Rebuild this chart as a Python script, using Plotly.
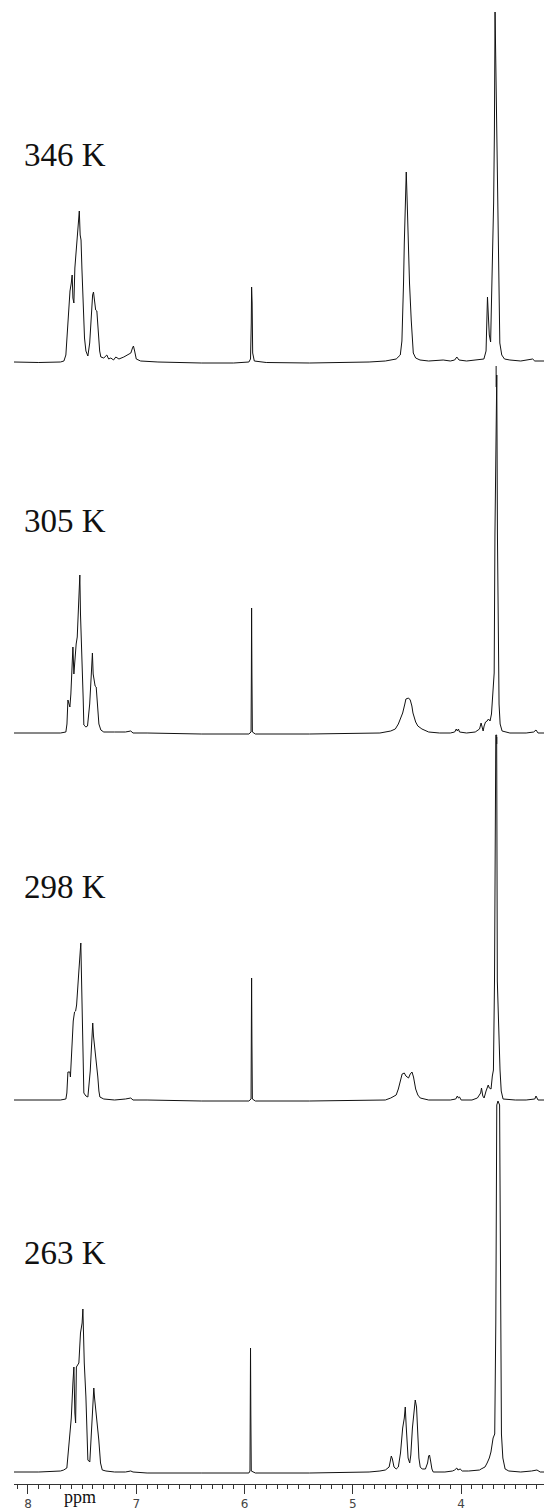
import numpy as np
import plotly.graph_objects as go

# ---- data: 1H NMR spectra (ppm, intensity, arbitrary units) ----
temps = ["346 K", "305 K", "298 K", "263 K"]

ppm_346 = [8.13, 7.90, 7.70, 7.668, 7.650, 7.630, 7.612, 7.600, 7.592, 7.585, 7.576, 7.567, 7.555, 7.545,
           7.535, 7.526, 7.518, 7.510, 7.502, 7.490, 7.478, 7.465, 7.447, 7.430, 7.415, 7.403, 7.395, 7.385,
           7.375, 7.364, 7.350, 7.338, 7.327, 7.300, 7.272, 7.255, 7.235, 7.210, 7.189, 7.160, 7.115, 7.080,
           7.050, 7.035, 7.026, 7.015, 7.000, 6.960, 6.800, 6.400, 6.100, 5.960, 5.945, 5.938, 5.935, 5.930,
           5.925, 5.910, 5.800, 5.400, 4.850, 4.700, 4.600, 4.562, 4.547, 4.540, 4.532, 4.525, 4.516, 4.507,
           4.498, 4.488, 4.477, 4.461, 4.442, 4.420, 4.380, 4.300, 4.166, 4.100, 4.060, 4.040, 4.020, 3.950,
           3.850, 3.790, 3.770, 3.762, 3.757, 3.750, 3.740, 3.728, 3.714, 3.700, 3.693, 3.687, 3.680, 3.670,
           3.662, 3.656, 3.643, 3.625, 3.600, 3.550, 3.450, 3.340, 3.320, 3.235]
int_346 = [1, 0.5, 1, 2, 8, 40, 72, 80, 88, 65, 60, 95, 110, 125,
           140, 152, 128, 123, 95, 55, 25, 12, 7, 20, 50, 68, 71, 58,
           53, 52, 30, 12, 6, 5, 8, 4, 5, 3, 6, 4, 6, 8,
           10, 15, 17, 12, 4, 2, 1, 0, 0, 1, 4, 40, 76, 60,
           10, 2, 0.5, 0, 1, 2, 4, 8, 22, 45, 80, 120, 150, 191,
           160, 110, 80, 43, 10, 5, 3, 2, 3, 2, 3, 6, 3, 2,
           3, 4, 12, 45, 66, 50, 28, 21, 90, 160, 230, 351, 300, 220,
           160, 90, 20, 8, 4, 3, 2, 4, 2, 2]

ppm_305 = [8.13, 7.90, 7.70, 7.650, 7.640, 7.631, 7.622, 7.613, 7.604, 7.595, 7.585, 7.576, 7.567, 7.555,
           7.545, 7.535, 7.525, 7.521, 7.515, 7.505, 7.498, 7.490, 7.484, 7.465, 7.450, 7.430, 7.415, 7.405,
           7.398, 7.392, 7.380, 7.370, 7.360, 7.345, 7.327, 7.300, 7.200, 7.100, 7.051, 7.030, 6.900, 6.400,
           5.960, 5.940, 5.937, 5.935, 5.932, 5.928, 5.900, 5.400, 4.750, 4.650, 4.608, 4.580, 4.560, 4.540,
           4.520, 4.510, 4.486, 4.470, 4.455, 4.445, 4.420, 4.400, 4.362, 4.300, 4.200, 4.100, 4.060, 4.045,
           4.035, 4.025, 4.015, 3.950, 3.870, 3.830, 3.816, 3.806, 3.797, 3.788, 3.775, 3.760, 3.748, 3.740,
           3.733, 3.720, 3.705, 3.695, 3.688, 3.671, 3.665, 3.656, 3.650, 3.640, 3.622, 3.550, 3.400, 3.330,
           3.309, 3.290, 3.235]
int_305 = [1, 1, 1, 2, 10, 34, 30, 27, 40, 70, 87, 60, 75, 90,
           97, 120, 140, 159, 120, 92, 70, 35, 9, 7, 8, 30, 60, 81,
           60, 54, 48, 47, 30, 10, 4, 2, 2, 2, 3, 1, 1, 0,
           0, 2, 60, 126, 60, 2, 0, 0, 1, 3, 5, 10, 16, 21,
           30, 35, 36, 34, 28, 21, 12, 8, 5, 2, 1, 1, 2, 5,
           3, 5, 2, 1, 2, 5, 11, 5, 3, 8, 12, 13, 15, 14,
           13, 20, 43, 61, 200, 359, 200, 61, 30, 10, 3, 1, 1, 2,
           4, 1, 1]

ppm_298 = [8.13, 7.90, 7.70, 7.650, 7.641, 7.631, 7.613, 7.608, 7.594, 7.582, 7.570, 7.560, 7.551, 7.540,
           7.530, 7.512, 7.505, 7.496, 7.490, 7.484, 7.465, 7.447, 7.425, 7.412, 7.402, 7.395, 7.373, 7.360,
           7.355, 7.345, 7.336, 7.300, 7.200, 7.100, 7.051, 7.030, 6.900, 6.400, 5.960, 5.940, 5.937, 5.935,
           5.932, 5.928, 5.900, 5.400, 4.750, 4.700, 4.650, 4.600, 4.580, 4.560, 4.545, 4.525, 4.510, 4.486,
           4.470, 4.454, 4.440, 4.420, 4.400, 4.378, 4.300, 4.100, 4.050, 4.035, 4.025, 4.015, 4.000, 3.900,
           3.850, 3.820, 3.812, 3.800, 3.788, 3.770, 3.750, 3.740, 3.724, 3.712, 3.702, 3.692, 3.680, 3.672,
           3.666, 3.641, 3.630, 3.613, 3.500, 3.400, 3.320, 3.309, 3.290, 3.235]
int_298 = [1, 1, 1, 2, 8, 29, 29, 24, 64, 80, 89, 90, 96, 110,
           130, 158, 120, 78, 40, 8, 5, 4, 30, 60, 78, 65, 44, 35,
           24, 10, 4, 2, 1, 2, 3, 1, 1, 0, 0, 2, 60, 123,
           60, 2, 0, 0, 1, 1, 3, 6, 12, 22, 27, 28, 25, 23,
           27, 29, 24, 12, 6, 3, 1, 1, 2, 5, 3, 4, 1, 1,
           3, 8, 13, 5, 3, 10, 16, 13, 12, 25, 31, 120, 366, 366,
           120, 31, 10, 2, 1, 1, 2, 5, 1, 1]

ppm_263 = [8.13, 7.90, 7.70, 7.670, 7.641, 7.630, 7.610, 7.600, 7.585, 7.576, 7.567, 7.560, 7.553, 7.540,
           7.530, 7.515, 7.500, 7.493, 7.486, 7.480, 7.465, 7.455, 7.447, 7.429, 7.415, 7.400, 7.392, 7.385,
           7.373, 7.360, 7.346, 7.330, 7.314, 7.280, 7.200, 7.100, 7.051, 7.030, 6.900, 6.400, 5.960, 5.950,
           5.947, 5.945, 5.942, 5.938, 5.900, 5.400, 4.850, 4.750, 4.700, 4.665, 4.655, 4.645, 4.635, 4.620,
           4.600, 4.580, 4.560, 4.540, 4.525, 4.516, 4.508, 4.500, 4.490, 4.475, 4.465, 4.450, 4.435, 4.424,
           4.412, 4.400, 4.390, 4.378, 4.360, 4.330, 4.310, 4.300, 4.292, 4.282, 4.270, 4.258, 4.150, 4.080,
           4.060, 4.040, 4.030, 4.009, 3.990, 3.930, 3.870, 3.830, 3.816, 3.800, 3.780, 3.760, 3.740, 3.725,
           3.705, 3.690, 3.680, 3.671, 3.660, 3.645, 3.636, 3.628, 3.615, 3.594, 3.560, 3.450, 3.350, 3.300,
           3.270, 3.235]
int_263 = [1, 1, 2, 3, 5, 20, 41, 55, 90, 106, 60, 50, 106, 108,
           110, 140, 150, 164, 130, 110, 76, 40, 13, 11, 40, 70, 85, 75,
           63, 45, 33, 10, 3, 2, 1, 1, 2, 1, 0, 0, 0, 2,
           60, 125, 60, 2, 0, 0, 1, 2, 3, 6, 14, 17, 14, 6,
           4, 6, 20, 45, 55, 66, 48, 30, 15, 10, 18, 45, 60, 73,
           66, 40, 15, 6, 4, 4, 10, 17, 18, 12, 4, 1, 1, 2,
           3, 5, 3, 4, 2, 2, 3, 3, 4, 5, 6, 10, 15, 21,
           35, 39, 150, 368, 372, 368, 150, 39, 15, 4, 2, 1, 2, 3,
           1, 1]

spectra = {
    "346 K": (ppm_346, int_346),
    "305 K": (ppm_305, int_305),
    "298 K": (ppm_298, int_298),
    "263 K": (ppm_263, int_263),
}

# small reference marks under the strongest line (ppm, depth below baseline)
marks = {"346 K": (3.677, 24), "305 K": (3.671, 10)}

# ---- layout constants (pixel-like units) ----
W, H = 544, 1510
ML, MB = 14, 26
PLOT_H = H - MB
offsets = {"346 K": 1121, "305 K": 750, "298 K": 383, "263 K": 11}
label_py = {"346 K": 155, "305 K": 521, "298 K": 887, "263 K": 1253}

fig = go.Figure()
for t in temps:
    x, y = spectra[t]
    fig.add_trace(go.Scatter(
        x=x, y=np.array(y, dtype=float) + offsets[t], mode="lines",
        line=dict(color="#111111", width=1), hoverinfo="skip", showlegend=False))
    if t in marks:
        px, depth = marks[t]
        fig.add_trace(go.Scatter(
            x=[px, px], y=[offsets[t] - 3, offsets[t] - depth], mode="lines",
            line=dict(color="#111111", width=1), hoverinfo="skip", showlegend=False))
    fig.add_annotation(
        x=(22 - ML) / (W - ML), y=1 - label_py[t] / PLOT_H, xref="paper", yref="paper",
        xanchor="left", yanchor="middle", text=t, showarrow=False,
        font=dict(family="Liberation Serif", size=33, color="#111111"))

fig.add_annotation(
    x=(80 - ML) / (W - ML), y=-(1509 - PLOT_H) / PLOT_H, xref="paper", yref="paper",
    xanchor="center", yanchor="bottom", text="ppm", showarrow=False,
    font=dict(family="Liberation Serif", size=18, color="#111111"))

fig.update_layout(
    width=W, height=H, margin=dict(l=ML, r=0, t=0, b=MB),
    paper_bgcolor="white", plot_bgcolor="white",
    xaxis=dict(range=[8.129, 3.235], showline=True, linecolor="#333333", linewidth=1,
               ticks="outside", ticklen=9, tickwidth=1, tickcolor="#333333",
               tick0=0, dtick=1, showgrid=False, zeroline=False,
               tickfont=dict(family="DejaVu Sans", size=12, color="#444444"),
               minor=dict(ticks="outside", ticklen=4, tickcolor="#333333", tick0=0, dtick=0.1,
                          showgrid=False)),
    yaxis=dict(range=[0, PLOT_H], visible=False, fixedrange=True),
)

fig.write_html("out.html")
